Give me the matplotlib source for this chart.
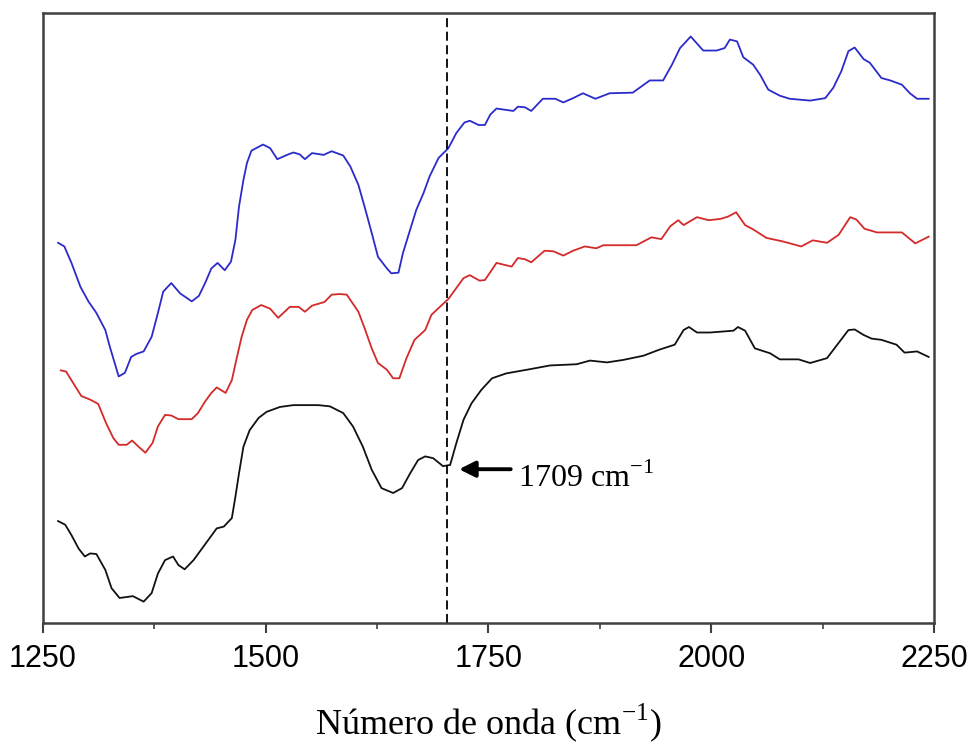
import matplotlib
matplotlib.use("Agg")
import matplotlib.pyplot as plt
from matplotlib.ticker import MultipleLocator

# FTIR spectra, arbitrary intensity units (0-100 across the plot height)
wn_blue = [1267, 1274, 1282, 1292, 1301, 1310, 1320, 1325, 1335, 1342, 1349, 1355,
           1363, 1372, 1379, 1385, 1394, 1404, 1417, 1425, 1432, 1439, 1446, 1454,
           1461, 1466, 1470, 1475, 1479, 1484, 1497, 1505, 1513, 1524, 1531, 1538,
           1544, 1552, 1565, 1574, 1587, 1595, 1604, 1611, 1619, 1626, 1636, 1641,
           1649, 1654, 1662, 1669, 1677, 1684, 1694, 1705, 1714, 1723, 1729, 1739,
           1746, 1752, 1759, 1778, 1783, 1791, 1798, 1811, 1825, 1834, 1845, 1856,
           1870, 1886, 1912, 1931, 1946, 1956, 1965, 1977, 1991, 2006, 2015, 2021,
           2029, 2036, 2047, 2055, 2064, 2077, 2088, 2111, 2128, 2137, 2146, 2154,
           2161, 2171, 2178, 2191, 2201, 2214, 2223, 2231, 2244]
int_blue = [62.3, 61.7, 59.0, 55.1, 52.7, 50.8, 48.0, 45.3, 40.4, 41.0, 43.6, 44.1,
            44.5, 46.9, 50.8, 54.3, 55.7, 54.0, 52.7, 53.6, 55.7, 58.1, 59.0, 57.8,
            59.2, 62.8, 68.2, 72.6, 75.4, 77.4, 78.4, 77.8, 76.0, 76.7, 77.1, 76.8,
            76.0, 77.0, 76.7, 77.3, 76.6, 74.8, 71.8, 68.2, 63.9, 60.0, 58.1, 57.3,
            57.4, 60.6, 64.4, 67.7, 70.4, 73.2, 76.2, 77.8, 80.3, 82.0, 82.3, 81.6,
            81.6, 83.3, 84.3, 83.9, 84.6, 84.5, 83.9, 85.9, 85.9, 85.3, 86.0, 86.8,
            85.9, 86.8, 86.9, 88.9, 88.9, 91.5, 94.2, 96.1, 93.8, 93.8, 94.2, 95.6,
            95.3, 92.7, 91.5, 89.8, 87.4, 86.4, 85.9, 85.6, 86.0, 87.7, 90.4, 93.7,
            94.3, 92.4, 91.8, 89.3, 88.9, 88.2, 86.8, 85.9, 85.9]

wn_red = [1270, 1276, 1284, 1293, 1303, 1312, 1321, 1329, 1335, 1344, 1350, 1358,
          1365, 1373, 1379, 1387, 1394, 1402, 1417, 1424, 1432, 1439, 1445, 1455,
          1462, 1467, 1473, 1479, 1485, 1495, 1505, 1514, 1527, 1537, 1544, 1552,
          1566, 1574, 1583, 1591, 1604, 1611, 1619, 1626, 1636, 1643, 1650, 1658,
          1667, 1679, 1686, 1705, 1714, 1722, 1729, 1740, 1746, 1754, 1759, 1776,
          1783, 1791, 1798, 1813, 1823, 1834, 1845, 1858, 1871, 1879, 1916, 1933,
          1944, 1954, 1963, 1969, 1984, 1997, 2010, 2019, 2028, 2038, 2047, 2062,
          2081, 2101, 2114, 2130, 2143, 2156, 2163, 2172, 2186, 2214, 2229, 2244]
int_red = [41.4, 41.2, 39.3, 37.2, 36.6, 35.9, 32.7, 30.3, 29.2, 29.2, 29.9, 28.8,
           27.9, 29.5, 32.2, 34.1, 34.0, 33.4, 33.4, 34.4, 36.3, 37.7, 38.6, 37.7,
           39.8, 43.1, 46.9, 49.7, 51.3, 52.1, 51.5, 50.0, 51.8, 51.8, 51.0, 52.0,
           52.6, 53.8, 53.9, 53.8, 51.0, 48.3, 45.0, 42.6, 41.5, 40.1, 40.1, 43.4,
           46.4, 48.0, 50.5, 53.1, 54.9, 56.5, 57.0, 56.1, 56.2, 57.9, 59.0, 58.4,
           59.8, 59.6, 59.1, 61.0, 60.9, 60.2, 61.0, 61.7, 61.4, 61.9, 61.9, 63.2,
           62.9, 65.0, 66.0, 65.2, 66.5, 66.0, 66.2, 66.6, 67.3, 65.2, 64.5, 63.1,
           62.5, 61.7, 62.7, 62.3, 63.6, 66.5, 66.1, 64.6, 64.0, 64.0, 62.2, 63.3]

wn_black = [1267, 1275, 1282, 1290, 1297, 1303, 1310, 1320, 1327, 1336, 1351, 1363,
            1372, 1379, 1387, 1396, 1402, 1409, 1419, 1430, 1445, 1453, 1462, 1466,
            1470, 1475, 1482, 1492, 1501, 1516, 1531, 1559, 1572, 1587, 1598, 1609,
            1619, 1630, 1643, 1653, 1662, 1671, 1679, 1688, 1699, 1707, 1714, 1722,
            1731, 1742, 1754, 1770, 1797, 1819, 1849, 1864, 1883, 1901, 1924, 1942,
            1959, 1969, 1975, 1984, 1999, 2025, 2030, 2038, 2049, 2066, 2077, 2098,
            2111, 2130, 2143, 2154, 2161, 2171, 2180, 2191, 2208, 2217, 2231, 2244]
int_black = [16.7, 16.1, 14.4, 12.2, 10.9, 11.4, 11.3, 8.7, 5.7, 4.1, 4.4, 3.5,
             4.9, 8.1, 10.3, 10.9, 9.5, 8.8, 10.3, 12.5, 15.5, 15.8, 17.2, 20.7,
             24.5, 28.9, 31.6, 33.6, 34.6, 35.4, 35.7, 35.7, 35.5, 34.4, 32.2, 28.9,
             25.1, 22.1, 21.3, 22.1, 24.5, 26.7, 27.3, 27.0, 25.7, 25.9, 29.5, 33.3,
             36.0, 38.2, 40.1, 40.9, 41.6, 42.2, 42.4, 43.0, 42.7, 43.1, 43.8, 44.8,
             45.6, 48.0, 48.5, 47.6, 47.6, 47.9, 48.5, 47.9, 45.0, 44.2, 43.2, 43.2,
             42.6, 43.4, 45.9, 48.0, 48.1, 47.2, 46.6, 46.4, 45.6, 44.3, 44.5, 43.6]

marker_wn = 1703
peak_label = "1709 cm$^{\\mathrm{-1}}$"
peak_xy = (1717, 25.2)
label_xy = (1783, 22.3)

plt.rcParams["mathtext.fontset"] = "custom"
plt.rcParams["mathtext.rm"] = "Liberation Serif"

fig = plt.figure(figsize=(9.74, 7.43), dpi=100)
ax = fig.add_axes([0.0441, 0.1615, 0.9148, 0.8214])

ax.plot(wn_blue, int_blue, color="#2b2bcc", lw=1.3)
ax.plot(wn_red, int_red, color="#d42a2a", lw=1.3)
ax.plot(wn_black, int_black, color="#111111", lw=1.3)

ax.axvline(marker_wn, color="black", lw=1.3, linestyle=(0, (5, 2.5)))

ax.annotate("", xy=peak_xy, xytext=(1775, peak_xy[1]),
            arrowprops=dict(arrowstyle="-|>", lw=2.8, color="black",
                            mutation_scale=24, shrinkA=0, shrinkB=0))
ax.text(label_xy[0], label_xy[1], peak_label, fontsize=23,
        family="Liberation Serif", va="baseline", ha="left")

ax.set_xlim(1250, 2250)
ax.set_ylim(0, 100)
ax.xaxis.set_major_locator(MultipleLocator(250))
ax.xaxis.set_minor_locator(MultipleLocator(125))
ax.set_yticks([])
ax.tick_params(axis="x", which="major", direction="out", length=7, width=1.5,
               color="#404040", labelsize=22, pad=8)
ax.tick_params(axis="x", which="minor", direction="out", length=4, width=1.2,
               color="#404040")
for lab in ax.get_xticklabels():
    lab.set_family("Liberation Sans")
for sp in ax.spines.values():
    sp.set_color("#404040")
    sp.set_linewidth(1.8)

ax.set_xlabel("Número de onda (cm$^{\\mathrm{-1}}$)", fontsize=26,
              family="Liberation Serif", labelpad=20)

fig.savefig("out.png", dpi=100)
